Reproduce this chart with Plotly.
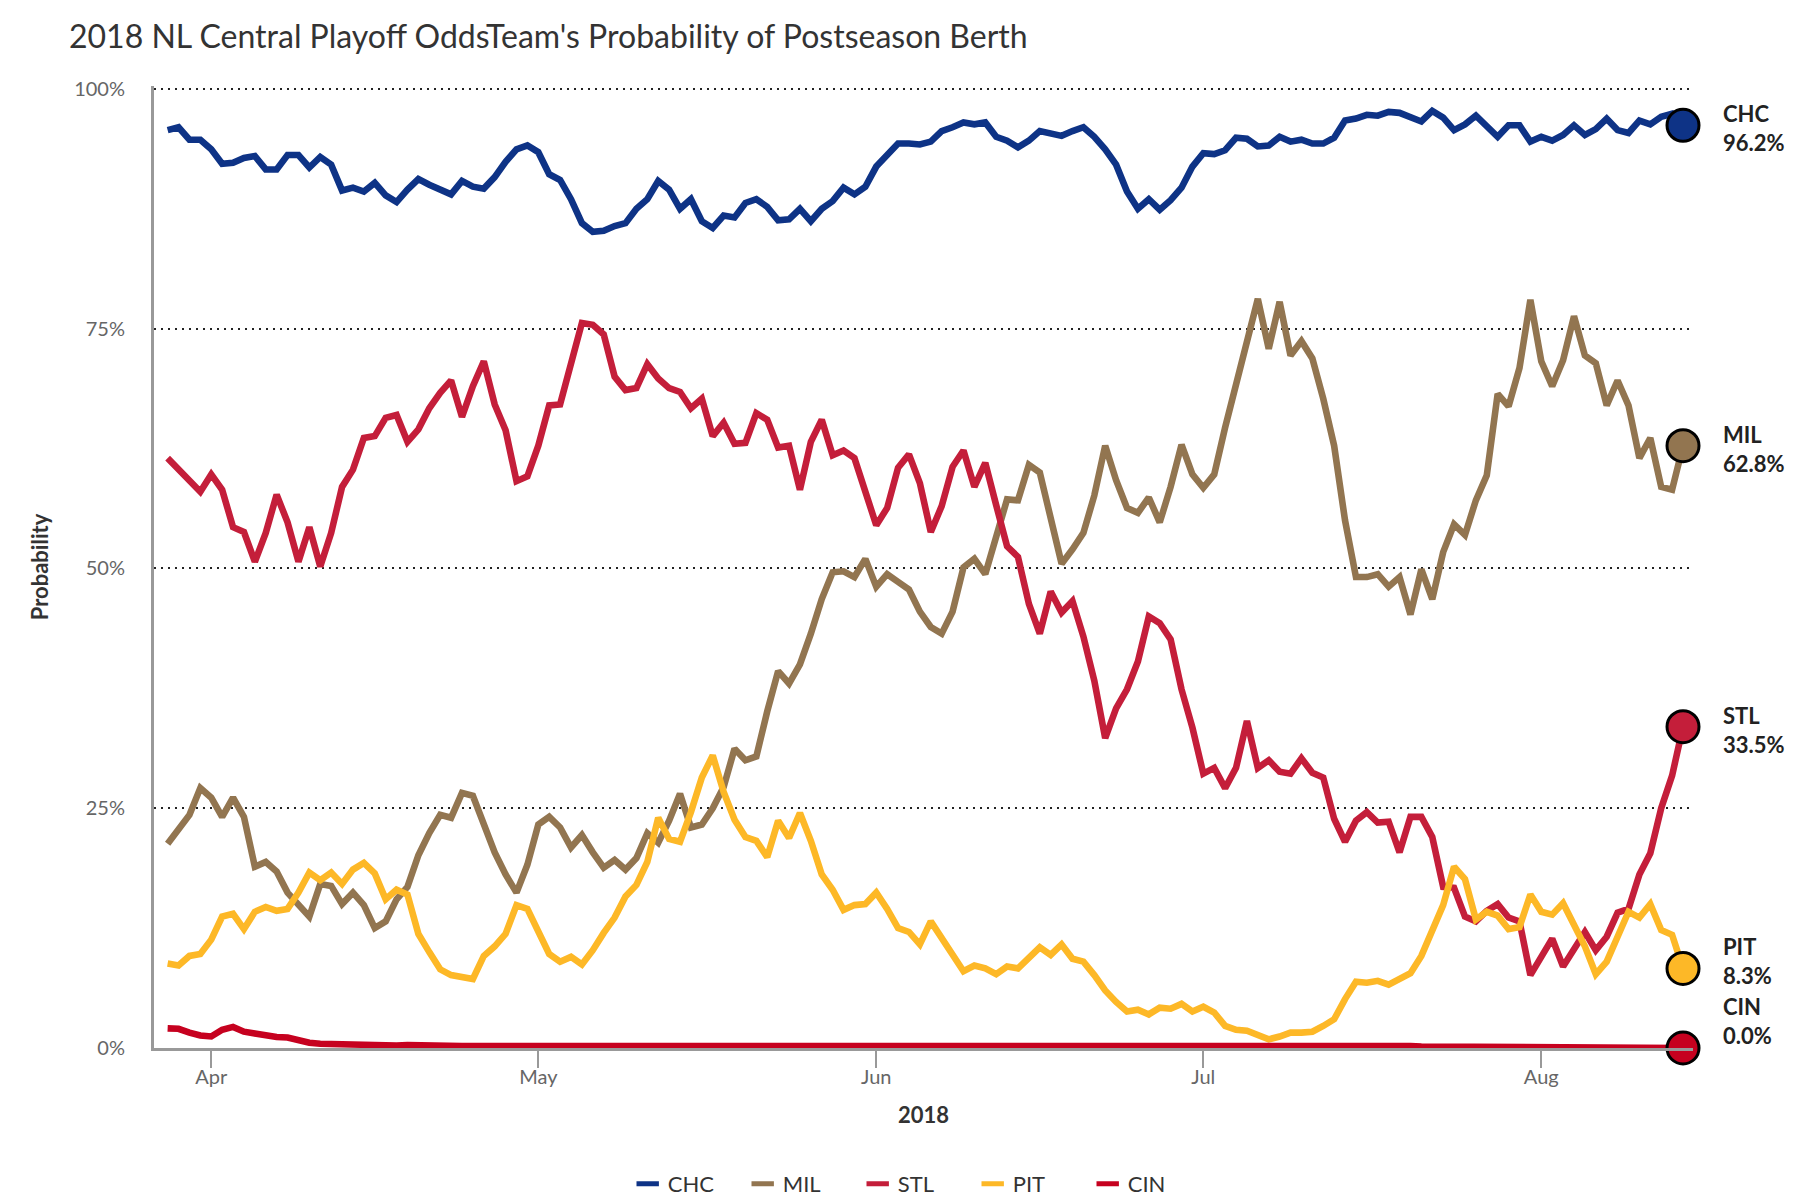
import pandas as pd
import plotly.graph_objects as go

# ---------------- data ----------------
dates = pd.date_range("2018-03-28", "2018-08-14", freq="D")

teams = ["CHC", "MIL", "STL", "PIT", "CIN"]
team_colors = ["#0E3386", "#927550", "#C41E3A", "#FDB827", "#C6011F"]

chc = [95.7, 96.0, 94.7, 94.7, 93.7, 92.2, 92.3, 92.8, 93.0, 91.6,
       91.6, 93.1, 93.1, 91.8, 92.9, 92.1, 89.4, 89.7, 89.3, 90.2,
       88.9, 88.2, 89.5, 90.6, 90.0, 89.5, 89.0, 90.4, 89.8, 89.6,
       90.8, 92.4, 93.7, 94.1, 93.4, 91.1, 90.5, 88.5, 86.0, 85.1,
       85.2, 85.7, 86.0, 87.5, 88.5, 90.4, 89.5, 87.5, 88.5, 86.2,
       85.5, 86.8, 86.6, 88.1, 88.5, 87.7, 86.3, 86.4, 87.5, 86.2,
       87.5, 88.3, 89.7, 89.0, 89.8, 91.9, 93.2, 94.3, 94.3, 94.2,
       94.5, 95.6, 96.0, 96.5, 96.3, 96.5, 95.0, 94.6, 93.9, 94.6,
       95.6, 95.4, 95.1, 95.6, 96.0, 95.0, 93.7, 92.1, 89.3, 87.5,
       88.5, 87.4, 88.4, 89.7, 91.9, 93.3, 93.2, 93.6, 94.9, 94.8,
       94.0, 94.1, 95.0, 94.5, 94.7, 94.3, 94.3, 94.9, 96.7, 96.9,
       97.3, 97.2, 97.6, 97.5, 97.1, 96.6, 97.7, 97.0, 95.7, 96.3,
       97.2, 96.2, 95.0, 96.2, 96.2, 94.5, 95.0, 94.6, 95.2, 96.2,
       95.2, 95.8, 96.9, 95.7, 95.4, 96.7, 96.3, 97.1, 97.4, 96.2]

mil = [21.3, 22.7, 24.3, 27.1, 26.1, 24.1, 26.1, 24.1, 18.9, 19.4,
       18.4, 16.2, 15.0, 13.7, 17.1, 16.9, 15.0, 16.2, 14.9, 12.5,
       13.2, 15.5, 16.8, 20.1, 22.4, 24.3, 24.0, 26.6, 26.3, 23.3,
       20.4, 18.1, 16.2, 19.1, 23.3, 24.1, 23.0, 20.9, 22.2, 20.4,
       18.8, 19.6, 18.6, 19.8, 22.4, 21.4, 23.7, 26.5, 23.0, 23.3,
       25.0, 27.2, 31.2, 30.0, 30.4, 35.1, 39.3, 38.0, 40.0, 43.2,
       46.8, 49.6, 49.7, 49.1, 51.0, 48.1, 49.4, 48.6, 47.8, 45.5,
       43.9, 43.2, 45.5, 50.1, 51.0, 49.4, 53.3, 57.2, 57.1, 60.8,
       60.0, 55.0, 50.5, 52.0, 53.7, 57.6, 62.8, 59.2, 56.3, 55.8,
       57.4, 54.8, 58.5, 62.9, 59.8, 58.4, 59.8, 64.7, 69.0, 73.5,
       78.1, 72.9, 77.8, 72.2, 73.7, 71.9, 67.7, 62.8, 55.0, 49.1,
       49.1, 49.4, 48.1, 49.1, 45.2, 49.9, 46.8, 51.7, 54.6, 53.5,
       57.1, 59.7, 68.2, 66.9, 70.9, 78.0, 71.6, 69.0, 71.7, 76.3,
       72.2, 71.4, 67.0, 69.6, 67.0, 61.5, 63.6, 58.5, 58.2, 62.8]

stl = [61.5, 60.4, 59.1, 58.0, 59.8, 58.2, 54.3, 53.8, 50.7, 53.7,
       57.7, 54.8, 50.7, 54.3, 50.2, 53.7, 58.5, 60.3, 63.6, 63.8,
       65.7, 66.0, 63.2, 64.5, 66.7, 68.3, 69.6, 65.8, 69.0, 71.6,
       67.1, 64.4, 59.1, 59.6, 62.8, 67.0, 67.1, 71.3, 75.6, 75.4,
       74.4, 70.0, 68.6, 68.8, 71.3, 69.8, 68.8, 68.4, 66.7, 67.7,
       63.8, 65.2, 63.0, 63.1, 66.2, 65.5, 62.6, 62.8, 58.2, 63.2,
       65.5, 61.8, 62.3, 61.5, 57.9, 54.5, 56.3, 60.5, 61.9, 58.9,
       53.8, 56.5, 60.6, 62.3, 58.5, 61.0, 56.6, 52.3, 51.2, 46.3,
       43.2, 47.6, 45.4, 46.6, 42.9, 38.3, 32.3, 35.4, 37.4, 40.3,
       45.0, 44.3, 42.6, 37.4, 33.4, 28.6, 29.2, 27.1, 29.2, 34.1,
       29.2, 30.0, 28.8, 28.6, 30.2, 28.7, 28.2, 23.9, 21.5, 23.7,
       24.6, 23.5, 23.6, 20.4, 24.1, 24.1, 22.0, 16.8, 16.7, 13.7,
       13.2, 14.3, 15.0, 13.6, 13.2, 7.6, 9.5, 11.4, 8.5, 10.3,
       12.1, 10.2, 11.6, 14.1, 14.5, 18.1, 20.3, 25.0, 28.4, 33.5]

pit = [8.8, 8.6, 9.6, 9.8, 11.3, 13.7, 14.0, 12.4, 14.2, 14.7,
       14.3, 14.5, 16.2, 18.3, 17.5, 18.3, 17.1, 18.6, 19.3, 18.2,
       15.5, 16.5, 16.0, 11.9, 10.0, 8.2, 7.6, 7.4, 7.2, 9.6,
       10.6, 11.9, 14.9, 14.5, 12.1, 9.8, 9.0, 9.5, 8.7, 10.2,
       12.0, 13.6, 15.8, 17.0, 19.4, 24.0, 21.8, 21.5, 24.6, 28.2,
       30.5, 26.7, 23.8, 22.0, 21.6, 19.9, 23.7, 21.9, 24.5, 21.6,
       18.1, 16.5, 14.4, 14.9, 15.0, 16.2, 14.5, 12.5, 12.1, 10.8,
       13.2, 11.5, 9.8, 8.0, 8.6, 8.3, 7.7, 8.5, 8.3, 9.5,
       10.5, 9.7, 10.8, 9.3, 9.0, 7.6, 6.0, 4.8, 3.8, 4.0,
       3.5, 4.2, 4.1, 4.6, 3.8, 4.3, 3.7, 2.3, 1.9, 1.8,
       1.3, 0.9, 1.2, 1.6, 1.6, 1.7, 2.3, 3.0, 5.1, 6.9,
       6.8, 7.0, 6.6, 7.2, 7.8, 9.6, 12.4, 14.9, 18.9, 17.6,
       13.4, 14.2, 13.8, 12.4, 12.6, 16.0, 14.2, 13.9, 15.1, 12.9,
       10.6, 7.7, 9.0, 11.6, 14.2, 13.6, 15.0, 12.3, 11.8, 8.3]

cin = [2.05, 2.0, 1.6, 1.3, 1.2, 1.9, 2.2, 1.7, 1.5, 1.25,
       1.15, 1.1, 0.8, 0.55, 0.45, 0.4, 0.35, 0.35, 0.3, 0.3,
       0.3, 0.25, 0.3, 0.25, 0.25, 0.2, 0.25, 0.2, 0.2, 0.25,
       0.2, 0.2, 0.2, 0.25, 0.2, 0.2, 0.2, 0.2, 0.25, 0.2,
       0.2, 0.2, 0.2, 0.2, 0.25, 0.25, 0.2, 0.2, 0.2, 0.2,
       0.25, 0.3, 0.3, 0.25, 0.2, 0.2, 0.2, 0.25, 0.2, 0.2,
       0.2, 0.2, 0.2, 0.2, 0.2, 0.25, 0.2, 0.2, 0.2, 0.2,
       0.2, 0.2, 0.25, 0.2, 0.2, 0.2, 0.2, 0.2, 0.2, 0.2,
       0.2, 0.2, 0.25, 0.2, 0.2, 0.25, 0.3, 0.25, 0.2, 0.2,
       0.2, 0.25, 0.2, 0.2, 0.3, 0.25, 0.2, 0.2, 0.2, 0.25,
       0.25, 0.2, 0.2, 0.25, 0.3, 0.35, 0.3, 0.3, 0.35, 0.3,
       0.25, 0.2, 0.2, 0.2, 0.2, 0.15, 0.15, 0.15, 0.15, 0.1,
       0.1, 0.1, 0.1, 0.1, 0.1, 0.1, 0.1, 0.1, 0.1, 0.1,
       0.1, 0.1, 0.1, 0.1, 0.1, 0.1, 0.1, 0.1, 0.1, 0.0]

series = [chc, mil, stl, pit, cin]
label_lift = [-3, -3, -3, 7, 27]   # vertical nudge of end labels (px)

title_text = "2018 NL Central Playoff OddsTeam's Probability of Postseason Berth"
y_ticks = [0, 25, 50, 75, 100]
y_tick_text = ["0%", "25%", "50%", "75%", "100%"]

# ---------------- figure ----------------
FONT = "Lato"
fig = go.Figure()

for name, vals, col in zip(teams, series, team_colors):
    fig.add_trace(go.Scatter(
        x=dates, y=vals, mode="lines", name=name,
        line=dict(color=col, width=6.6), showlegend=False,
        hovertemplate="%{x|%b %d}: %{y:.1f}%<extra>" + name + "</extra>"))

# end-point markers
fig.add_trace(go.Scatter(
    x=[dates[-1]] * len(teams), y=[s[-1] for s in series], mode="markers",
    marker=dict(size=32, color=team_colors, line=dict(color="black", width=3)),
    cliponaxis=False, showlegend=False, hoverinfo="skip"))

# legend entries
for name, col in zip(teams, team_colors):
    fig.add_trace(go.Scatter(
        x=[None], y=[None], mode="markers", name=name,
        marker=dict(symbol="line-ew", size=20, color=col,
                    line=dict(color=col, width=7))))

# end labels
for name, vals, lift in zip(teams, series, label_lift):
    fig.add_annotation(
        x=dates[-1], y=vals[-1], xref="x", yref="y",
        text=f"<b>{name}</b><br><b>{vals[-1]:.1f}%</b>",
        showarrow=False, xanchor="left", yanchor="middle", align="left",
        xshift=38, yshift=lift,
        font=dict(family=FONT, size=22, color="#222222"))

fig.update_layout(
    width=1800, height=1200,
    paper_bgcolor="white", plot_bgcolor="white",
    margin=dict(l=146, r=115, t=78, b=160, autoexpand=False),
    font=dict(family=FONT, color="#333333"),
    title=dict(text=title_text, x=61 / 1800, xref="container", xanchor="left",
               y=1 - 29 / 1200, yref="container", yanchor="middle",
               font=dict(family=FONT, size=32, color="#333333", weight=400)),
    showlegend=True,
    legend=dict(orientation="h", xref="container", x=0.504, xanchor="center",
                yref="container", y=1 - 1176 / 1200, yanchor="middle",
                entrywidth=70, entrywidthmode="pixels",
                font=dict(family=FONT, size=22, color="#333333"),
                bgcolor="rgba(0,0,0,0)"),
)

fig.update_xaxes(
    type="date",
    range=["2018-03-26 18:00", "2018-08-14 22:00"],
    tick0="2018-04-01", dtick="M1", tickformat="%b",
    ticks="outside", ticklen=17, tickwidth=2, tickcolor="#999999",
    ticklabelstandoff=-8,
    tickfont=dict(family=FONT, size=20, color="#666666"),
    showline=True, linecolor="#999999", linewidth=3,
    showgrid=False, zeroline=False,
    title=dict(text="<b>2018</b>", standoff=21,
               font=dict(family=FONT, size=22, color="#333333")),
)

fig.update_yaxes(
    range=[0, 100.3], tickvals=y_ticks, ticktext=y_tick_text,
    ticks="", ticklabelstandoff=22,
    tickfont=dict(family=FONT, size=20, color="#666666"),
    showline=True, linecolor="#999999", linewidth=3,
    showgrid=True, gridcolor="#222222", gridwidth=1.5, griddash="2px,5px",
    zeroline=False,
    title=dict(text="<b>Probability</b>", standoff=20,
               font=dict(family=FONT, size=22, color="#333333")),
)

fig.write_html("out.html")
